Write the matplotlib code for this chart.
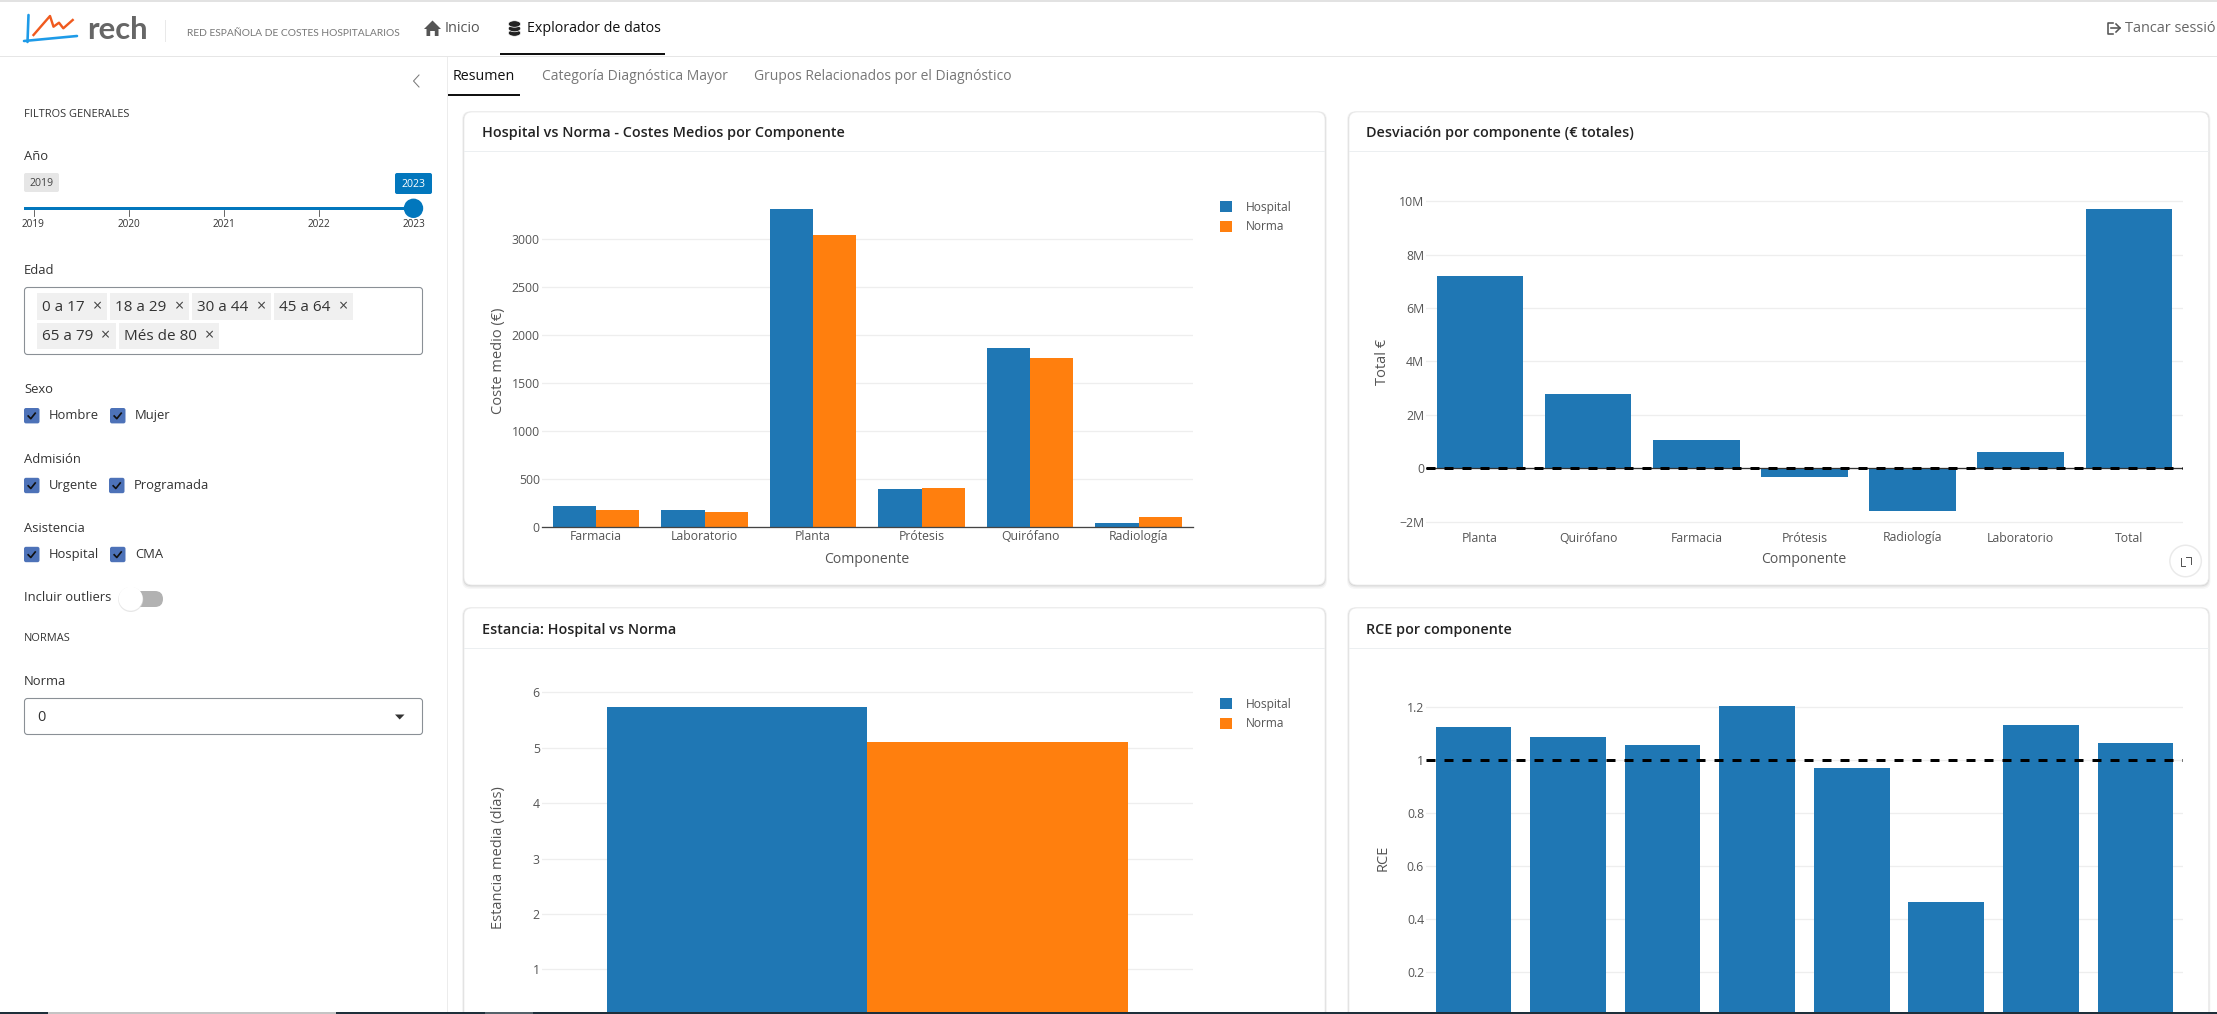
import matplotlib
matplotlib.use("Agg")
import matplotlib.pyplot as plt
from matplotlib.patches import FancyBboxPatch, Rectangle, Circle, Polygon, Ellipse

W, H = 2217, 1014
DPI = 100
plt.rcParams['font.family'] = ['Open Sans', 'DejaVu Sans']

# ---- data ----
comp_medio = ["Farmacia", "Laboratorio", "Planta", "Prótesis", "Quirófano", "Radiología"]
hosp_medio = [222, 180, 3312, 399, 1865, 45]
norma_medio = [184, 156, 3042, 410, 1760, 104]

comp_desv = ["Planta", "Quirófano", "Farmacia", "Prótesis", "Radiología", "Laboratorio", "Total"]
desv_total = [7.19e6, 2.78e6, 1.05e6, -0.32e6, -1.61e6, 0.60e6, 9.70e6]

estancia_hosp = 5.74
estancia_norma = 5.10

rce_valores = [1.124, 1.088, 1.058, 1.204, 0.972, 0.464, 1.133, 1.064]

edades = ["0 a 17", "18 a 29", "30 a 44", "45 a 64", "65 a 79", "Més de 80"]
anios = ["2019", "2020", "2021", "2022", "2023"]

BLUE, ORANGE = "#1f77b4", "#ff7f0e"
GRID, TICKC, LABC = "#eeeeee", "#555555", "#555555"

fig = plt.figure(figsize=(W / DPI, H / DPI), dpi=DPI, facecolor="white")
bg = fig.add_axes([0, 0, 1, 1], zorder=0)
bg.set_xlim(0, W)
bg.set_ylim(H, 0)
bg.axis("off")


def pt(px):
    return px * 72 / DPI


def T(x, y, s, px=13, color="#333333", ha="left", va="center", weight="normal", family=None, ax=bg, **kw):
    if family is not None:
        kw["family"] = family
    return ax.text(x, y + 1.1, s, fontsize=pt(px), color=color, ha=ha, va=va, weight=weight, **kw)


def R(x0, y0, x1, y1, color, z=2, **kw):
    bg.add_patch(Rectangle((x0, y0), x1 - x0, y1 - y0, facecolor=color, edgecolor="none", zorder=z, **kw))


def RB(x0, y0, x1, y1, r, fc, ec="none", lw=0, z=2, alpha=None):
    bg.add_patch(FancyBboxPatch((x0 + r, y0 + r), x1 - x0 - 2 * r, y1 - y0 - 2 * r,
                                boxstyle=f"round,pad={r},rounding_size={r}",
                                facecolor=fc, edgecolor=ec, linewidth=lw, zorder=z, alpha=alpha))


# ---- top bar ----
R(0, 0, W, 1.5, "#e2e2e2")
R(0, 56, W, 57, "#e6e6e6")
R(447, 57, 448, 1012, "#ececec")

# logo
bg.plot([28.5, 27.5], [15, 42], color="#1e9be8", lw=pt(2.6), zorder=3, solid_capstyle="round")
bg.plot([24, 77], [41, 36], color="#1e9be8", lw=pt(2.6), zorder=3, solid_capstyle="round")
bg.plot([33.5, 50, 53.5, 59, 63.3, 72.7], [35, 16, 26.7, 22.7, 28.3, 20], color="#f05a1e", lw=pt(2.4), zorder=3)
T(87, 28.5, "rech", px=31, color="#666666", weight="bold", family="Lato")
bg.plot([165, 165], [20, 42], color="#d5d5d5", lw=pt(1), ls=(0, (1, 1)), zorder=3)
T(187, 32, "RED ESPAÑOLA DE COSTES HOSPITALARIOS", px=10.3, color="#777777", family="Lato")

# nav
bg.add_patch(Polygon([[424, 29], [432.5, 20.5], [441, 29], [438.5, 29], [438.5, 36], [434.8, 36], [434.8, 31],
                      [430.2, 31], [430.2, 36], [426.5, 36], [426.5, 29]], facecolor="#555555", edgecolor="none", zorder=3))
T(445, 27.5, "Inicio", px=14.5, color="#555555")
for yy in (33, 28.5, 24):
    bg.add_patch(Ellipse((514.5, yy), 12.5, 6.5, facecolor="#222222", edgecolor="white", linewidth=0.5, zorder=3))
T(527, 27.5, "Explorador de datos", px=14.2, color="#111111")
R(500, 53.3, 665, 55.5, "#111111", z=3)
bg.plot([2113, 2108, 2108, 2113], [22.5, 22.5, 33.5, 33.5], color="#555555", lw=pt(1.6), zorder=3)
bg.plot([2111, 2120], [28, 28], color="#555555", lw=pt(1.6), zorder=3)
bg.plot([2116, 2120, 2116], [24, 28, 32], color="#555555", lw=pt(1.6), zorder=3)
T(2125, 27.5, "Tancar sessió", px=14.5, color="#666666")

# sidebar
bg.plot([419, 413.5, 419], [75, 81, 87], color="#777777", lw=pt(1), zorder=3)
T(24, 113, "FILTROS GENERALES", px=11, color="#333333")
T(24, 155, "Año", px=13, color="#333333")
RB(24, 173, 59, 192, 2, "#e6e6e6")
T(41.5, 182.5, anios[0], px=10.5, ha="center", color="#444444")
RB(395, 173, 432, 194, 2, "#0277bd")
T(413.5, 183.5, anios[-1], px=10.5, ha="center", color="white")
R(24, 206.8, 414, 209.8, "#0277bd", z=3)
bg.add_patch(Circle((413.5, 208.3), 9.7, facecolor="#0277bd", edgecolor="none", zorder=4))
for tx, lab in zip([33.5, 128.6, 223.7, 318.7, 413.8], anios):
    bg.plot([tx, tx], [210, 216], color="#444444", lw=pt(0.8), zorder=2)
    T(tx, 223, lab, px=10, ha="center", color="#333333")

T(24, 269, "Edad", px=13, color="#333333")
RB(24.5, 287.5, 422.5, 354.5, 3, "white", ec="#8a9096", lw=pt(1.1))
chips = [(37, 107, 293, 320, 98), (110, 189, 293, 320, 180), (192, 271, 293, 320, 262), (274, 353, 293, 320, 344),
         (37, 116, 323, 349, 106), (119, 219, 323, 349, 210)]
for (x0, x1, y0, y1, xm), lab in zip(chips, edades):
    R(x0, y0, x1, y1, "#f0f0f0", z=3)
    T(x0 + 5, (y0 + y1) / 2 - 0.5, lab, px=15.2, color="#333333", zorder=4)
    T(xm, (y0 + y1) / 2 - 0.5, "×", px=16, color="#444444", ha="center", zorder=4)


def check(x, y):
    RB(x, y - 7.7, x + 15.5, y + 7.7, 2, "#4d72b8", z=3)
    bg.plot([x + 4.2, x + 6.8, x + 11.2], [y + 0.3, y + 3, y - 2.5], color="#111111", lw=pt(1.7), zorder=4)


T(24, 388, "Sexo", px=13)
check(24, 415.7); T(48.7, 414.5, "Hombre", px=13)
check(110, 415.7); T(135, 414.5, "Mujer", px=13)
T(24, 458, "Admisión", px=13)
check(24, 485.5); T(48.7, 484.5, "Urgente", px=13)
check(109, 485.5); T(134, 484.5, "Programada", px=13)
T(24, 527.5, "Asistencia", px=13)
check(24, 554.5); T(48.7, 553.5, "Hospital", px=13)
check(110, 554.5); T(135, 553.5, "CMA", px=13)
T(24, 596, "Incluir outliers", px=13)
RB(128, 591, 163, 607, 8, "#b2b2b2", z=3)
bg.add_patch(Circle((130.7, 599.5), 12.5, facecolor="#dddddd", edgecolor="none", zorder=3.5, alpha=0.7))
bg.add_patch(Circle((130.7, 598.7), 12, facecolor="white", edgecolor="none", zorder=4))
T(24, 637.7, "NORMAS", px=11)
T(24, 680, "Norma", px=13)
RB(24.5, 698.5, 422.5, 734.5, 3, "white", ec="#8a9096", lw=pt(1.1))
T(37, 716.5, "0", px=14.5, color="#333333", zorder=4)
bg.add_patch(Polygon([[395, 714.5], [404.5, 714.5], [399.7, 719.5]], facecolor="#333333", edgecolor="none", zorder=4))

# tabs
T(453, 75.5, "Resumen", px=14.2, color="#111111")
R(448, 94, 520, 96, "#111111", z=3)
T(541.5, 75.5, "Categoría Diagnóstica Mayor", px=13.9, color="#777777")
T(754, 75.5, "Grupos Relacionados por el Diagnóstico", px=13.9, color="#777777")


# ---- cards ----
def card(x0, y0, x1, y1, title, hline):
    for d, a in ((4, 0.03), (2.5, 0.05), (1.2, 0.08)):
        RB(x0 - d * 0.5, y0 - d * 0.2, x1 + d * 0.5, y1 + d, 8, "#000000", z=1, alpha=a)
    RB(x0, y0, x1, y1, 8, "white", ec="#ededed", lw=pt(0.8), z=1.5)
    R(x0, hline, x1, hline + 1, "#eceff1", z=2)
    T(x0 + 17.5, (y0 + hline) / 2 + 0.5, title, px=14.4, color="#222222", weight="semibold", zorder=3)


card(464, 112, 1325, 585, "Hospital vs Norma - Costes Medios por Componente", 151)
card(1349, 112, 2208.5, 585, "Desviación por componente (€ totales)", 151)
card(464, 608, 1325, 1030, "Estancia: Hospital vs Norma", 648)
card(1349, 608, 2208.5, 1030, "RCE por componente", 648)


def make_ax(x0, x1, y_top, y_bot, ylim):
    ax = fig.add_axes([x0 / W, 1 - y_bot / H, (x1 - x0) / W, (y_bot - y_top) / H], zorder=3)
    ax.patch.set_alpha(0)
    for s in ax.spines.values():
        s.set_visible(False)
    ax.set_ylim(*ylim)
    ax.set_axisbelow(True)
    ax.grid(axis="y", color=GRID, lw=pt(1.3))
    ax.grid(axis="x", visible=False)
    ax.tick_params(axis="both", length=0, labelsize=pt(12.3), labelcolor=TICKC, pad=pt(2))
    return ax


LX0, LX1 = 541.8, 1192.8
RX0, RX1 = 1426.1, 2182.8


def add_legend(ax, handles, x_px, y_px):
    box = ax.get_position()
    ax_x = (x_px / W - box.x0) / box.width
    ax_y = ((1 - y_px / H) - box.y0) / box.height
    ax.legend(handles, ["Hospital", "Norma"], loc="upper left", bbox_to_anchor=(ax_x, ax_y),
              frameon=False, fontsize=pt(12), borderpad=0, borderaxespad=0,
              handlelength=0.96, handleheight=1.05, handletextpad=1.17, labelspacing=0.52,
              labelcolor=TICKC)


# chart 1: 0 at y=527.3, 500 per 48 px
ylim1 = (0, (527.3 - 200) / 48 * 500)
ax1 = make_ax(LX0, LX1, 200, 527.3, ylim1)
xs = list(range(len(comp_medio)))
b1 = ax1.bar([x - 0.2 for x in xs], hosp_medio, 0.4, color=BLUE, clip_on=False)
b2 = ax1.bar([x + 0.2 for x in xs], norma_medio, 0.4, color=ORANGE, clip_on=False)
ax1.set_xlim(-0.5, 5.5)
ax1.set_xticks(xs, comp_medio)
ax1.set_yticks(range(0, 3500, 500))
ax1.axhline(0, color="#444444", lw=pt(1.3), clip_on=False, zorder=4)
ax1.tick_params(axis="x", pad=pt(3))
add_legend(ax1, [b1, b2], 1220.4, 201)
T(867, 558.5, "Componente", px=14, color=LABC, ha="center", zorder=4)
T(498.2, 360, "Coste medio (€)", px=14.6, color=LABC, ha="center", rotation=90, zorder=4)

# chart 2: 0 at 468.3, 2M per 53.4 px
m_per_px = 2e6 / 53.4
ylim2 = (-(527 - 468.3) * m_per_px, (468.3 - 195) * m_per_px)
ax2 = make_ax(RX0, RX1, 195, 527, ylim2)
xs2 = list(range(len(comp_desv)))
ax2.bar(xs2, desv_total, 0.8, color=BLUE)
ax2.set_xlim(-0.5, 6.5)
ax2.set_xticks(xs2, comp_desv)
ticks2 = [-2e6, 0, 2e6, 4e6, 6e6, 8e6, 10e6]
ax2.set_yticks(ticks2, ["−2M", "0", "2M", "4M", "6M", "8M", "10M"])
ax2.axhline(0, color="#333333", lw=pt(1.3), zorder=4)
ax2.axhline(0, color="black", lw=pt(3), ls=(0, (3, 3)), zorder=5)
ax2.tick_params(axis="x", pad=pt(4.5))
T(1804, 558.5, "Componente", px=14, color=LABC, ha="center", zorder=4)
T(1383, 360.7, "Total €", px=14.6, color=LABC, ha="center", rotation=90, zorder=4)

# chart 3: 6 at 692.3, 55.4 px per unit; clipped by the window at y=1012
ylim3 = (6 - (1012 - 692.3) / 55.4, 6.02)
ax3 = make_ax(LX0, LX1, 691.2, 1012, ylim3)
b3a = ax3.bar([-0.2], [estancia_hosp], 0.4, color=BLUE)
b3b = ax3.bar([0.2], [estancia_norma], 0.4, color=ORANGE)
ax3.set_xlim(-0.5, 0.5)
ax3.set_xticks([])
ax3.set_yticks(range(1, 7))
add_legend(ax3, [b3a, b3b], 1220.4, 698)
T(498.2, 856.7, "Estancia media (días)", px=14.6, color=LABC, ha="center", rotation=90, zorder=4)

# chart 4: 1 at 760.3, 0.2 per 53 px
ylim4 = (1 - (1012 - 760.3) / 53 * 0.2, 1 + (760.3 - 700) / 53 * 0.2)
ax4 = make_ax(RX0, RX1, 700, 1012, ylim4)
xs4 = list(range(len(rce_valores)))
ax4.bar(xs4, rce_valores, 0.8, color=BLUE)
ax4.set_xlim(-0.5, 7.5)
ax4.set_xticks([])
ax4.set_yticks([0.2, 0.4, 0.6, 0.8, 1, 1.2], ["0.2", "0.4", "0.6", "0.8", "1", "1.2"])
ax4.axhline(1, color="black", lw=pt(3), ls=(0, (3, 3)), zorder=5)
T(1383, 857, "RCE", px=14.6, color=LABC, ha="center", rotation=90, zorder=4)

# expand button + footer on an overlay
top = fig.add_axes([0, 0, 1, 1], zorder=10)
top.set_xlim(0, W)
top.set_ylim(H, 0)
top.axis("off")
top.patch.set_alpha(0)
top.add_patch(Circle((2185.6, 561), 16.5, facecolor="#dddddd", edgecolor="none", alpha=0.6))
top.add_patch(Circle((2185.6, 561), 15, facecolor="white", edgecolor="none"))
top.plot([2180.5, 2180.5, 2185], [558, 565.5, 565.5], color="#555555", lw=pt(1))
top.plot([2186, 2190.5, 2190.5], [556.5, 556.5, 564], color="#555555", lw=pt(1))
top.add_patch(Rectangle((0, 1012), W, 2, facecolor="#1e2f3a", edgecolor="none"))
top.add_patch(Rectangle((48, 1012), 288, 2, facecolor="#c4c4c4", edgecolor="none"))
top.add_patch(Rectangle((485, 1012), 48, 2, facecolor="#55626a", edgecolor="none"))

fig.savefig("out.png", dpi=DPI, facecolor="white")
